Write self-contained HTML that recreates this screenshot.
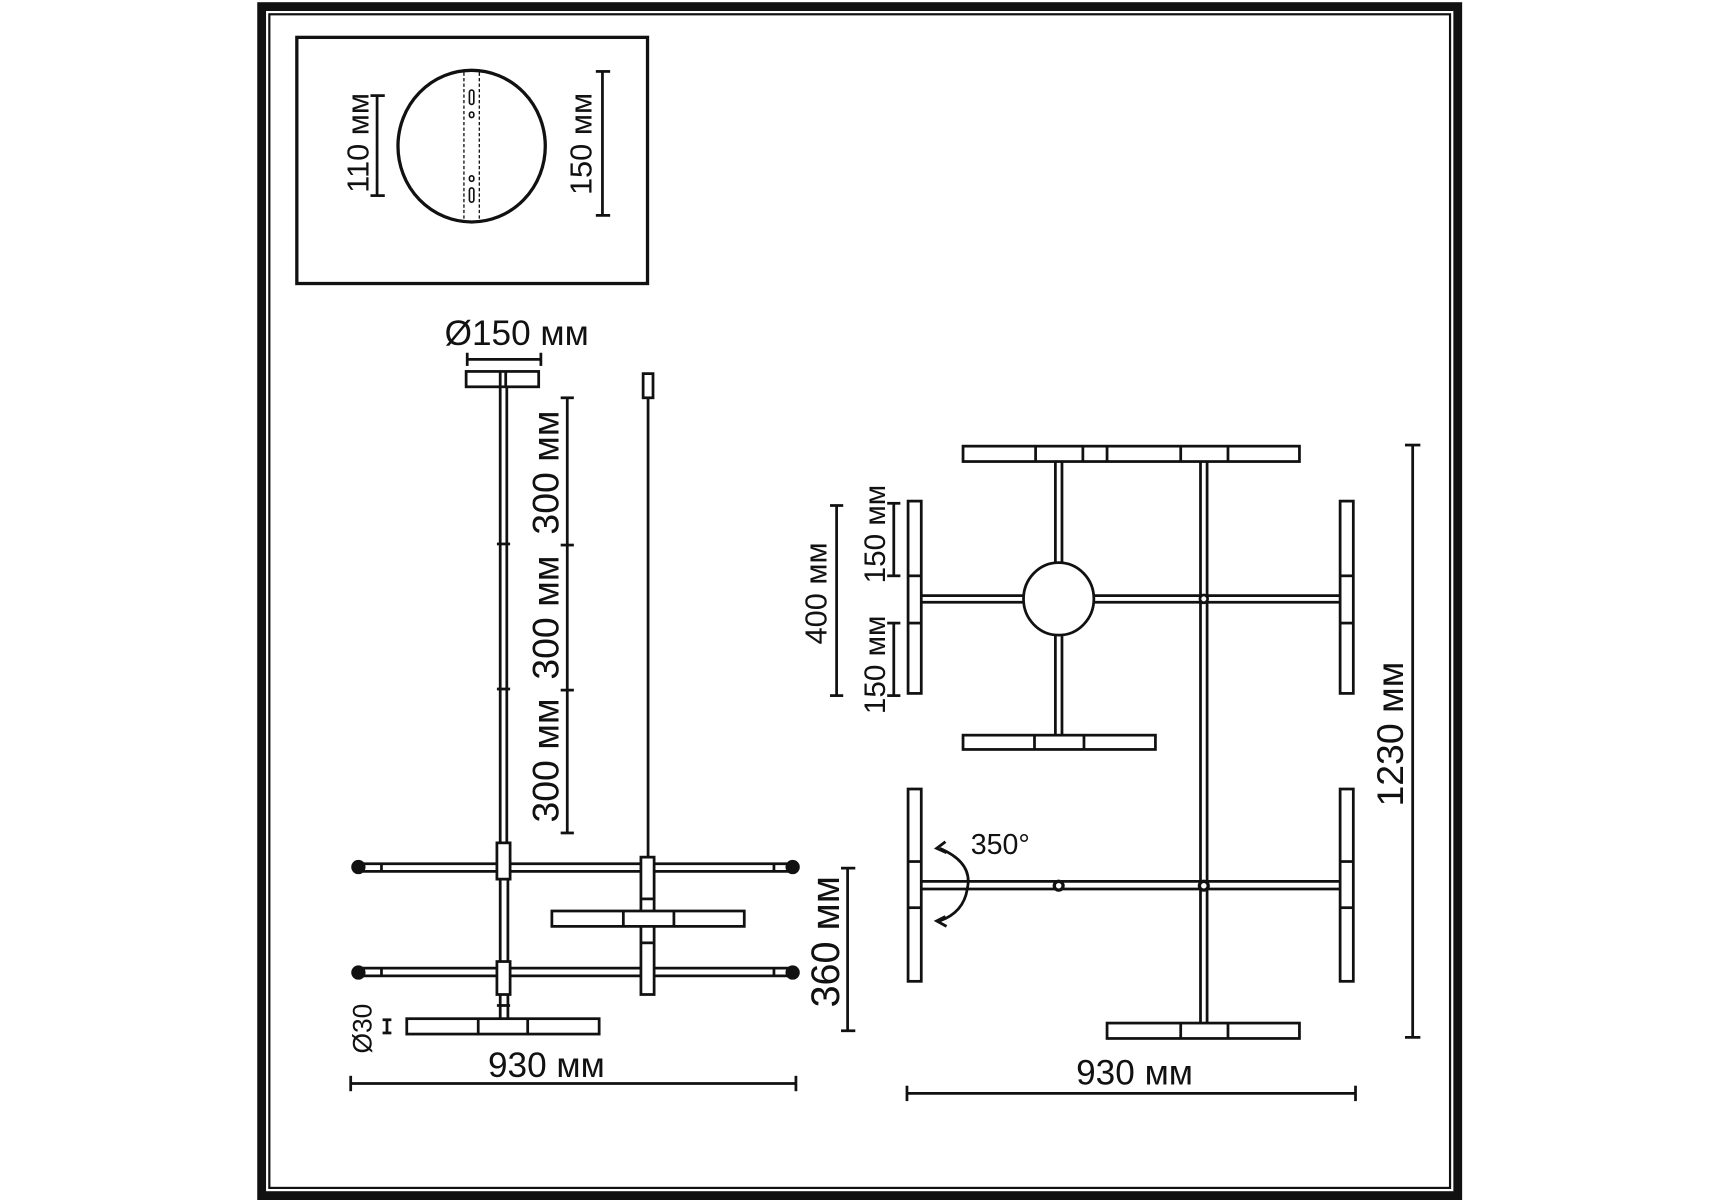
<!DOCTYPE html>
<html><head><meta charset="utf-8"><style>
html,body{margin:0;padding:0;background:#fff;width:1715px;height:1200px;overflow:hidden}
svg{display:block}
text{font-family:"Liberation Sans",sans-serif;fill:#111}
</style></head><body>
<svg width="1715" height="1200" viewBox="0 0 1560 1092" preserveAspectRatio="none" xmlns="http://www.w3.org/2000/svg">
<rect width="1560" height="1092" fill="#fff"/>
<g fill="none" stroke="#111">
<rect x="238" y="6" width="1088" height="1082" stroke-width="8"/>
<rect x="245" y="13" width="1074" height="1068" stroke-width="2"/>
<!-- inset -->
<rect x="270" y="34" width="319" height="224" stroke-width="3"/>
<ellipse cx="429" cy="133" rx="67" ry="69" stroke-width="3"/>
<line x1="422" y1="66" x2="422" y2="200" stroke-width="1.2" stroke-dasharray="3 2"/>
<line x1="436" y1="66" x2="436" y2="200" stroke-width="1.2" stroke-dasharray="3 2"/>
<rect x="427" y="82" width="4" height="13" rx="2" stroke-width="1.5"/>
<rect x="427" y="102" width="4" height="5" rx="2" stroke-width="1.5"/>
<rect x="427" y="160" width="4" height="5" rx="2" stroke-width="1.5"/>
<rect x="427" y="171" width="4" height="13" rx="2" stroke-width="1.5"/>
<g stroke-width="2.5">
<line x1="343" y1="87" x2="343" y2="178"/><line x1="337" y1="87" x2="350" y2="87"/><line x1="337" y1="178" x2="350" y2="178"/>
<line x1="548" y1="65" x2="548" y2="196"/><line x1="542" y1="65" x2="555" y2="65"/><line x1="542" y1="196" x2="555" y2="196"/>
</g>
<!-- left side view -->
<g stroke-width="2.5">
<line x1="425" y1="327" x2="492" y2="327"/><line x1="425" y1="321" x2="425" y2="333"/><line x1="492" y1="321" x2="492" y2="333"/>
<rect x="424" y="338" width="66" height="14"/>
<line x1="455" y1="338" x2="455" y2="352"/><line x1="460" y1="338" x2="460" y2="352"/>
<line x1="455" y1="352" x2="455" y2="768"/><line x1="461" y1="352" x2="461" y2="768"/>
<line x1="452" y1="495" x2="464" y2="495"/><line x1="452" y1="627" x2="464" y2="627"/>
<line x1="516" y1="362" x2="516" y2="758"/>
<line x1="510" y1="362" x2="522" y2="362"/><line x1="510" y1="496" x2="522" y2="496"/><line x1="510" y1="628" x2="522" y2="628"/><line x1="510" y1="758" x2="522" y2="758"/>
<rect x="585" y="340" width="9" height="22"/>
<line x1="589.5" y1="362" x2="589.5" y2="780"/>
<line x1="330" y1="786" x2="720" y2="786"/><line x1="330" y1="793" x2="720" y2="793"/>
<line x1="330" y1="881" x2="720" y2="881"/><line x1="330" y1="888" x2="720" y2="888"/>
<line x1="347" y1="786" x2="347" y2="793"/><line x1="704" y1="786" x2="704" y2="793"/>
<line x1="347" y1="881" x2="347" y2="888"/><line x1="704" y1="881" x2="704" y2="888"/>
<rect x="452" y="767" width="12" height="33" fill="#fff"/>
<rect x="583" y="780" width="12" height="125" fill="#fff"/>
<line x1="583" y1="818" x2="595" y2="818"/><line x1="583" y1="858" x2="595" y2="858"/>
<line x1="455" y1="800" x2="455" y2="875"/><line x1="462" y1="800" x2="462" y2="875"/>
<rect x="452" y="875" width="12" height="30" fill="#fff"/>
<line x1="455" y1="905" x2="455" y2="927"/><line x1="462" y1="905" x2="462" y2="927"/>
<line x1="452" y1="915" x2="464" y2="915"/>
<rect x="502" y="829" width="175" height="14" fill="#fff"/>
<line x1="567" y1="829" x2="567" y2="843"/><line x1="613" y1="829" x2="613" y2="843"/>
<rect x="370" y="927" width="175" height="14" fill="#fff"/>
<line x1="435" y1="927" x2="435" y2="941"/><line x1="480" y1="927" x2="480" y2="941"/>
<line x1="352" y1="928" x2="352" y2="940"/><line x1="348" y1="928" x2="356" y2="928"/><line x1="348" y1="940" x2="356" y2="940"/>
<line x1="319" y1="986" x2="724" y2="986"/><line x1="319" y1="979" x2="319" y2="993"/><line x1="724" y1="979" x2="724" y2="993"/>
<line x1="771" y1="790" x2="771" y2="938"/><line x1="765" y1="790" x2="778" y2="790"/><line x1="765" y1="938" x2="778" y2="938"/>
</g>
<!-- right top view -->
<g stroke-width="2.5">
<rect x="876" y="406" width="306" height="14"/>
<line x1="942" y1="406" x2="942" y2="420"/><line x1="985" y1="406" x2="985" y2="420"/><line x1="1007" y1="406" x2="1007" y2="420"/><line x1="1074" y1="406" x2="1074" y2="420"/><line x1="1117" y1="406" x2="1117" y2="420"/>
<line x1="960" y1="420" x2="960" y2="514"/><line x1="966" y1="420" x2="966" y2="514"/>
<line x1="1092" y1="420" x2="1092" y2="931"/><line x1="1098" y1="420" x2="1098" y2="931"/>
<line x1="838" y1="542" x2="932" y2="542"/><line x1="838" y1="548" x2="932" y2="548"/>
<line x1="995" y1="542" x2="1219" y2="542"/><line x1="995" y1="548" x2="1219" y2="548"/>
<ellipse cx="963" cy="545" rx="32" ry="33" fill="#fff" stroke-width="2.5"/>
<circle cx="1095" cy="545" r="3.5" fill="#fff" stroke-width="2.5"/>
<rect x="826" y="456" width="12" height="175"/><line x1="826" y1="524" x2="838" y2="524"/><line x1="826" y1="567" x2="838" y2="567"/>
<rect x="1219" y="456" width="12" height="175"/><line x1="1219" y1="524" x2="1231" y2="524"/><line x1="1219" y1="567" x2="1231" y2="567"/>
<line x1="960" y1="577" x2="960" y2="669"/><line x1="966" y1="577" x2="966" y2="669"/>
<rect x="876" y="669" width="175" height="13"/><line x1="941" y1="669" x2="941" y2="682"/><line x1="986" y1="669" x2="986" y2="682"/>
<line x1="761" y1="460" x2="761" y2="633"/><line x1="755" y1="460" x2="767" y2="460"/><line x1="755" y1="633" x2="767" y2="633"/>
<line x1="813" y1="458" x2="813" y2="524"/><line x1="807" y1="458" x2="819" y2="458"/><line x1="807" y1="524" x2="819" y2="524"/>
<line x1="813" y1="567" x2="813" y2="633"/><line x1="807" y1="567" x2="819" y2="567"/><line x1="807" y1="633" x2="819" y2="633"/>
<rect x="826" y="718" width="12" height="175"/><line x1="826" y1="784" x2="838" y2="784"/><line x1="826" y1="826" x2="838" y2="826"/>
<rect x="1219" y="718" width="12" height="175"/><line x1="1219" y1="784" x2="1231" y2="784"/><line x1="1219" y1="826" x2="1231" y2="826"/>
<line x1="838" y1="802" x2="1219" y2="802"/><line x1="838" y1="809" x2="1219" y2="809"/>
<circle cx="963" cy="806" r="4" fill="#fff" stroke-width="3"/>
<circle cx="1095" cy="806" r="4" fill="#fff" stroke-width="3"/>
<rect x="1007" y="931" width="175" height="14" fill="#fff"/><line x1="1074" y1="931" x2="1074" y2="945"/><line x1="1117" y1="931" x2="1117" y2="945"/>
<path d="M855 772 Q885 785 880 808 Q877 830 855 838"/>
<path d="M860 766 L852 772 L861 776"/><path d="M860 834 L852 838 L861 843"/>
<line x1="1285" y1="405" x2="1285" y2="944"/><line x1="1278" y1="405" x2="1292" y2="405"/><line x1="1278" y1="944" x2="1292" y2="944"/>
<line x1="825" y1="995" x2="1233" y2="995"/><line x1="825" y1="988" x2="825" y2="1002"/><line x1="1233" y1="988" x2="1233" y2="1002"/>
</g>
</g>
<g fill="#111">
<circle cx="326" cy="789" r="6.5"/><circle cx="721" cy="789" r="6.5"/>
<circle cx="326" cy="885" r="6.5"/><circle cx="721" cy="885" r="6.5"/>
</g>
<text x="325" y="130" font-size="28" text-anchor="middle" transform="rotate(-90 325 130)" dy="10">110 мм</text>
<text x="528" y="131" font-size="28" text-anchor="middle" transform="rotate(-90 528 131)" dy="10">150 мм</text>
<text x="470" y="314" font-size="32" text-anchor="middle">Ø150 мм</text>
<text x="496" y="430" font-size="34" text-anchor="middle" transform="rotate(-90 496 430)" dy="12">300 мм</text>
<text x="496" y="562" font-size="34" text-anchor="middle" transform="rotate(-90 496 562)" dy="12">300 мм</text>
<text x="496" y="692" font-size="34" text-anchor="middle" transform="rotate(-90 496 692)" dy="12">300 мм</text>
<text x="330" y="936" font-size="24" text-anchor="middle" transform="rotate(-90 330 936)" dy="8">Ø30</text>
<text x="497" y="980" font-size="32" text-anchor="middle">930 мм</text>
<text x="750" y="857" font-size="36" text-anchor="middle" transform="rotate(-90 750 857)" dy="13">360 мм</text>
<text x="742" y="540" font-size="28" text-anchor="middle" transform="rotate(-90 742 540)" dy="10">400 мм</text>
<text x="795" y="486" font-size="27" text-anchor="middle" transform="rotate(-90 795 486)" dy="10">150 мм</text>
<text x="795" y="605" font-size="27" text-anchor="middle" transform="rotate(-90 795 605)" dy="10">150 мм</text>
<text x="883" y="777" font-size="26">350°</text>
<text x="1264" y="668" font-size="34" text-anchor="middle" transform="rotate(-90 1264 668)" dy="12">1230 мм</text>
<text x="1032" y="987" font-size="32" text-anchor="middle">930 мм</text>
</svg>
</body></html>
